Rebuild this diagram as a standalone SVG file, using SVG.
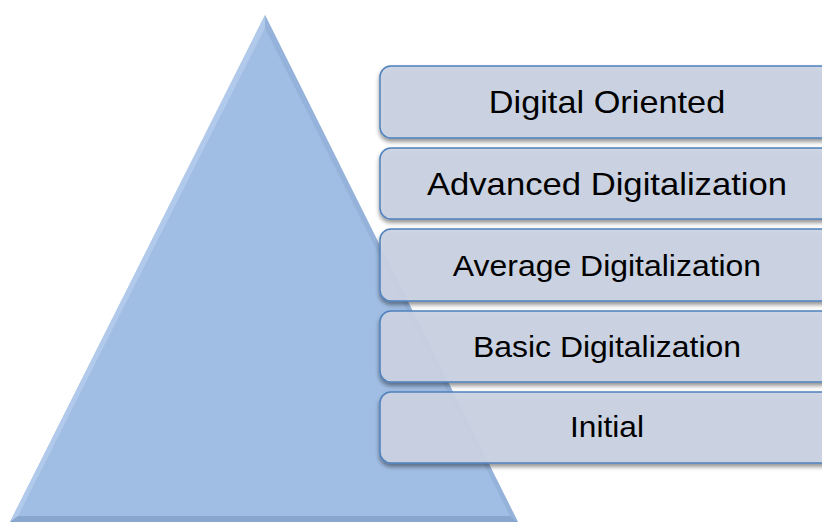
<svg xmlns="http://www.w3.org/2000/svg" width="822" height="524" viewBox="0 0 822 524">
<defs>
<filter id="sh" x="-10%" y="-20%" width="120%" height="160%">
<feDropShadow dx="0" dy="3" stdDeviation="2" flood-color="#000" flood-opacity="0.45"/>
</filter>
</defs>
<style>
.box{fill:#cbd3e3;fill-opacity:0.93;stroke:#4f81bd;stroke-width:1.5;filter:url(#sh)}
.lbl{font-family:"Liberation Sans",Arial,sans-serif;fill:#000;text-anchor:middle}
.big{font-size:31.5px}
.sm{font-size:29.5px}
</style>
<g id="pyramid">
<polygon points="265,15 10,522 518,522" fill="#a0bde3"/>
<polygon points="265,15 10,522 18,516 265,28" fill="#b5cdee" opacity="0.8"/>
<polygon points="10,522 518,522 510,516 18,516" fill="#7f9cc4" opacity="0.7"/>
<polygon points="265,15 518,522 510,516 265,28" fill="#8eacd4" opacity="0.6"/>
</g>
<g id="digital-oriented">
<rect class="box" x="380" y="66" width="470" height="72" rx="11"/>
<text class="lbl big" transform="translate(607,113) scale(1.09,1)">Digital Oriented</text>
</g>
<g id="advanced">
<rect class="box" x="380" y="148" width="470" height="71" rx="11"/>
<text class="lbl big" transform="translate(607,195) scale(1.1,1)">Advanced Digitalization</text>
</g>
<g id="average">
<rect class="box" x="380" y="229" width="470" height="72" rx="11"/>
<text class="lbl sm" transform="translate(607,276) scale(1.083,1)">Average Digitalization</text>
</g>
<g id="basic">
<rect class="box" x="380" y="311" width="470" height="71" rx="11"/>
<text class="lbl sm" transform="translate(607,357) scale(1.083,1)">Basic Digitalization</text>
</g>
<g id="initial">
<rect class="box" x="380" y="392" width="470" height="71" rx="11"/>
<text class="lbl sm" transform="translate(607,437) scale(1.075,1)">Initial</text>
</g>
<g id="connectors"/>
</svg>
